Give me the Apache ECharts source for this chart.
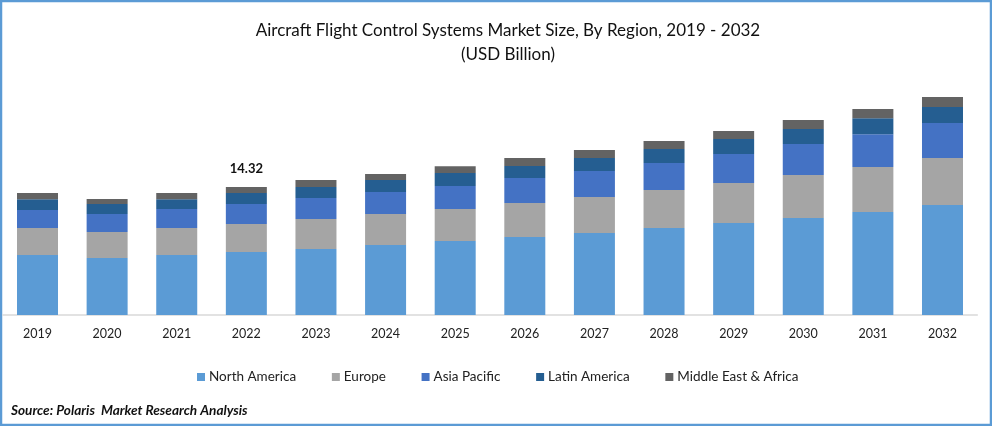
<!DOCTYPE html>
<html>
<head>
    <meta charset="utf-8" />
    <title>Aircraft Flight Control Systems Market Size</title>
    <style>
        html, body { margin: 0; padding: 0; background: #fff; }
        #container { width: 992px; height: 426px; }
    </style>
</head>
<body>
<div id="container"></div>
<script src="https://cdn.jsdelivr.net/npm/echarts@6/dist/echarts.min.js"></script>
<script type="text/javascript">
    var years = ['2019', '2020', '2021', '2022', '2023', '2024', '2025', '2026', '2027', '2028', '2029', '2030', '2031', '2032'];

    // USD billion (2022 total is printed as 14.32)
    var northAmerica = [6.71, 6.38, 6.71, 7.05, 7.38, 7.83, 8.28, 8.73, 9.18, 9.73, 10.29, 10.85, 11.52, 12.31];
    var europe = [3.02, 2.91, 3.02, 3.13, 3.36, 3.47, 3.58, 3.80, 4.03, 4.25, 4.48, 4.81, 5.03, 5.26];
    var asiaPacific = [2.01, 2.01, 2.13, 2.24, 2.35, 2.46, 2.57, 2.80, 2.91, 3.02, 3.24, 3.47, 3.69, 3.92];
    var latinAmerica = [1.20, 1.12, 1.09, 1.23, 1.23, 1.34, 1.45, 1.34, 1.45, 1.57, 1.68, 1.68, 1.79, 1.79];
    var middleEast = [0.70, 0.56, 0.70, 0.67, 0.78, 0.67, 0.78, 0.90, 0.90, 0.90, 0.90, 1.01, 1.01, 1.12];

    var labelYear = '2022';
    var labelText = '14.32';

    var font = 'Lato, "Open Sans", sans-serif';

    function barSeries(name, values, color) {
        return {
            name: name,
            type: 'bar',
            stack: 'total',
            barWidth: 41,
            data: values,
            itemStyle: { color: color }
        };
    }

    var seriesList = [
        barSeries('North America', northAmerica, '#5B9BD5'),
        barSeries('Europe', europe, '#A5A5A5'),
        barSeries('Asia Pacific', asiaPacific, '#4472C4'),
        barSeries('Latin America', latinAmerica, '#255E91'),
        barSeries('Middle East & Africa', middleEast, '#636363')
    ];

    // only the 2022 bar carries a total on top
    seriesList[4].label = {
        show: true,
        position: 'top',
        distance: 12,
        color: '#111',
        fontFamily: font,
        fontWeight: 700,
        fontSize: 13,
        formatter: function (p) {
            return p.name === labelYear ? labelText : '';
        }
    };

    var myChart = echarts.init(document.getElementById('container'));
    var option = {
        animation: false,
        backgroundColor: '#fff',
        title: {
            text: 'Aircraft Flight Control Systems Market Size, By Region, 2019 - 2032\n(USD Billion)',
            left: 503,
            top: 14,
            textAlign: 'center',
            textStyle: {
                fontFamily: font,
                fontWeight: 'normal',
                fontSize: 17,
                lineHeight: 24,
                color: '#111'
            }
        },
        legend: {
            left: 192,
            top: 365,
            icon: 'rect',
            itemWidth: 8,
            itemHeight: 8,
            itemGap: 35.7,
            textStyle: { fontFamily: font, fontSize: 13.5, color: '#222', padding: [0, 0, 0, -1] }
        },
        grid: { left: 2.7, right: 14.7, top: 91.6, height: 223.4 },
        xAxis: {
            type: 'category',
            data: years,
            axisLine: { lineStyle: { color: '#D9D9D9', width: 1.5 } },
            axisTick: { show: false },
            axisLabel: { fontFamily: font, fontSize: 12.5, color: '#222', margin: 12 }
        },
        yAxis: { type: 'value', min: 0, max: 25, show: false },
        series: seriesList,
        graphic: [
            {
                type: 'rect',
                silent: true,
                shape: { x: 1, y: 1, width: 990, height: 424 },
                style: { fill: 'none', stroke: '#5B9BD5', lineWidth: 2.5 }
            },
            {
                type: 'text',
                left: 11,
                top: 404,
                style: {
                    text: 'Source: Polaris  Market Research Analysis',
                    font: 'italic bold 13.6px ' + font,
                    fill: '#111'
                }
            }
        ]
    };
    myChart.setOption(option, true);
</script>
</body>
</html>
